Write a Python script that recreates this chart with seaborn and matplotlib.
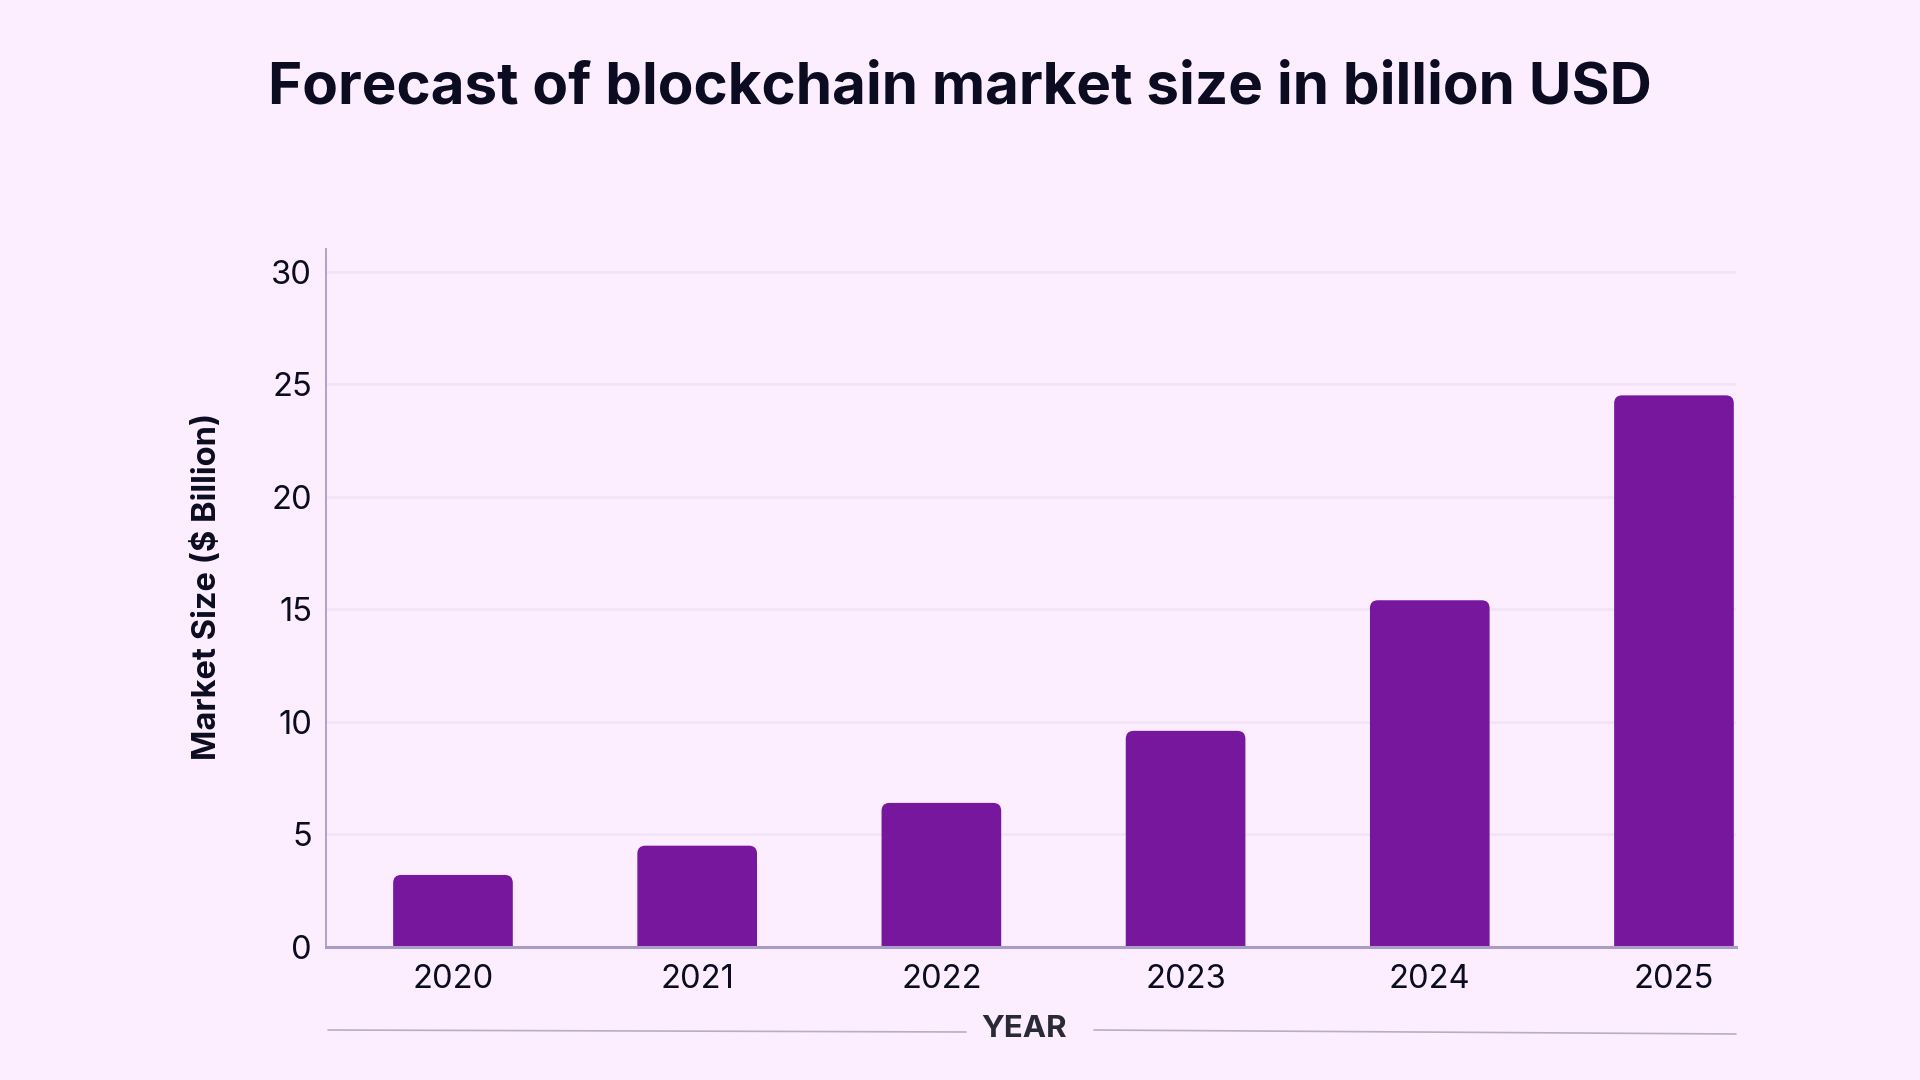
import matplotlib
matplotlib.use("Agg")
import matplotlib.pyplot as plt
from matplotlib.patches import FancyBboxPatch
from matplotlib.lines import Line2D
import seaborn as sns
import pandas as pd

years = ["2020", "2021", "2022", "2023", "2024", "2025"]
market_size = [3.2, 4.5, 6.4, 9.6, 15.4, 24.5]
y_ticks = [0, 5, 10, 15, 20, 25, 30]

title = "Forecast of blockchain market size in billion USD"
y_label = "Market Size ($ Billion)"
x_label = "YEAR"

BG = "#FCEEFE"
BAR = "#77179D"
TEXT = "#0B0C22"
GRID = "#F3E3F6"
SPINE = "#A99CC6"

sns.set_theme(style="white")
plt.rcParams["font.family"] = ["Inter", "DejaVu Sans"]

df = pd.DataFrame({"year": years, "size": market_size})

fig = plt.figure(figsize=(19.2, 10.8), dpi=100, facecolor=BG)
ax = fig.add_axes([326 / 1920, 1 - 947 / 1080, (1736 - 326) / 1920, (947 - 249) / 1080])
ax.set_facecolor(BG)

sns.barplot(data=df, x="year", y="size", color=BAR, width=0.49, saturation=1,
            ax=ax, zorder=3)

ax.set_xlim(-0.52, 5.254)
ax.set_ylim(0, 31)

# rounded tops
px_x = (1736 - 326) / (5.254 + 0.52)
px_y = (947 - 249) / 31
r_px = 8
for p in list(ax.patches):
    x, w, h = p.get_x(), p.get_width(), p.get_height()
    fb = FancyBboxPatch((x, -1), w, h + 1,
                        boxstyle=f"round,pad=0,rounding_size={r_px / px_x}",
                        mutation_aspect=px_x / px_y,
                        facecolor=BAR, edgecolor="none", zorder=3)
    p.remove()
    ax.add_patch(fb)

ax.set_yticks(y_ticks)
ax.set_yticklabels([str(t) for t in y_ticks])
for t in y_ticks[1:]:
    ax.axhline(t, color=GRID, lw=2, zorder=1)

ax.tick_params(axis="both", length=0, labelsize=23.5, colors=TEXT)
ax.tick_params(axis="y", pad=10)
ax.tick_params(axis="x", pad=12)
ax.set_xlabel("")
ax.set_ylabel("")

for s in ["top", "right"]:
    ax.spines[s].set_visible(False)
ax.spines["left"].set_color(SPINE)
ax.spines["left"].set_linewidth(1.3)
ax.spines["bottom"].set_color(SPINE)
ax.spines["bottom"].set_linewidth(2.2)
ax.spines["bottom"].set_zorder(4)

fig.text(0.5, 1 - 88 / 1080, title, ha="center", va="center",
         fontsize=42, fontweight="bold", color=TEXT)
fig.text(208 / 1920, 1 - 586 / 1080, y_label, rotation=90, ha="center", va="center",
         fontsize=23.5, fontweight="bold", color=TEXT)
fig.text(1024 / 1920, 1 - 1029 / 1080, x_label, ha="center", va="center",
         fontsize=22.5, fontweight="bold", color="#2A2A36")

fig.add_artist(Line2D([328 / 1920, 966 / 1920], [1 - 1030 / 1080, 1 - 1032 / 1080],
                      color="#B7AEC4", lw=1.2, transform=fig.transFigure))
fig.add_artist(Line2D([1094 / 1920, 1736 / 1920], [1 - 1030 / 1080, 1 - 1034 / 1080],
                      color="#B7AEC4", lw=1.2, transform=fig.transFigure))

fig.savefig("out.png", dpi=100, facecolor=BG)
